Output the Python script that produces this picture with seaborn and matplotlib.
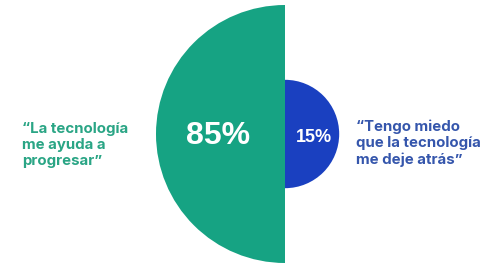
import numpy as np
import seaborn as sns
import matplotlib.pyplot as plt
from matplotlib.patches import Wedge

# data
labels = ['“La tecnología\nme ayuda a\nprogresar”', '“Tengo miedo\nque la tecnología\nme deje atrás”']
values = [85, 15]
colors = ['#16a383', '#1a40c0']
text_colors = ['#2aa585', '#3556ac']

sns.set_theme(style='white')
plt.rcParams['font.family'] = ['Inter', 'DejaVu Sans']

fig = plt.figure(figsize=(4.8, 2.7), dpi=100)
ax = fig.add_axes([0, 0, 1, 1])
ax.set_xlim(0, 480)
ax.set_ylim(270, 0)
ax.set_aspect('equal')
ax.axis('off')

cx, cy = 285, 134
k = 129 / np.sqrt(max(values))  # area proportional half circles
radii = [k * np.sqrt(v) for v in values]

# left half for first value, right half for second
ax.add_patch(Wedge((cx, cy), radii[0], 90, 270, color=colors[0], lw=0))
ax.add_patch(Wedge((cx, cy), radii[1], 270, 90, color=colors[1], lw=0))

ax.text(cx - radii[0] * 0.52, cy + 2, f'{values[0]}%', color='white', fontsize=23,
        fontweight='bold', ha='center', va='center', family='Liberation Sans')
ax.text(cx + radii[1] * 0.53, cy + 3, f'{values[1]}%', color='white', fontsize=13,
        fontweight='bold', ha='center', va='center', family='Liberation Sans')

ax.text(22, 145, labels[0], color=text_colors[0], fontsize=10.8, fontweight='bold',
        ha='left', va='center', linespacing=1.22)
ax.text(356, 143, labels[1], color=text_colors[1], fontsize=10.8, fontweight='bold',
        ha='left', va='center', linespacing=1.22)

fig.savefig('out.png', dpi=100, facecolor='white')
